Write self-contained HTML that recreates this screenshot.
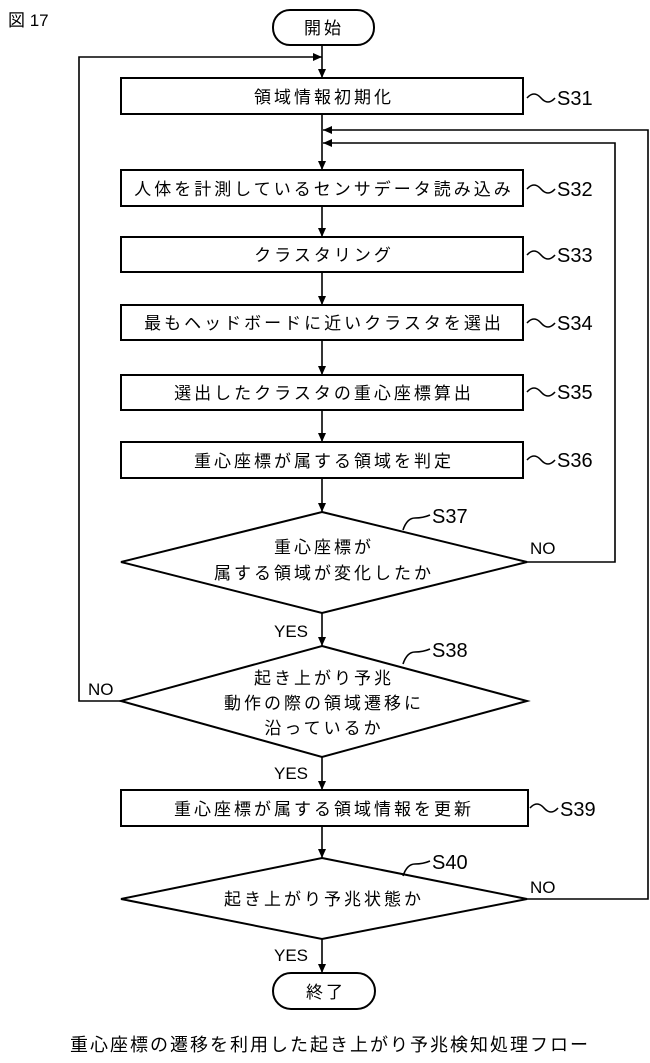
<!DOCTYPE html>
<html><head><meta charset="utf-8"><style>body{margin:0;background:#fff}svg{display:block}</style></head><body>
<svg width="650" height="1063" viewBox="0 0 650 1063" xmlns="http://www.w3.org/2000/svg" font-family="'Liberation Sans','Noto Sans CJK JP',sans-serif">
<defs><marker id="a" markerWidth="10" markerHeight="10" refX="9" refY="5" orient="auto" markerUnits="userSpaceOnUse"><path d="M0,1 L9,5 L0,9 Z" fill="#000"/></marker></defs>
<g fill="none" stroke="#000" stroke-width="2">
<rect x="273" y="10" width="101" height="35" rx="17"/>
<rect x="121" y="78" width="402" height="36"/>
<rect x="121" y="170" width="402" height="36"/>
<rect x="121" y="237" width="402" height="35"/>
<rect x="121" y="305" width="402" height="35"/>
<rect x="121" y="375" width="402" height="35"/>
<rect x="121" y="442" width="402" height="36"/>
<polygon points="322,512 527,562 322,613 121,562"/>
<polygon points="322,646 527,701 322,757 121,701"/>
<rect x="121" y="790" width="407" height="36"/>
<polygon points="322,858 527,899 322,939 121,899"/>
<rect x="273" y="973" width="102" height="36" rx="18"/>
</g>
<g stroke="#000" stroke-width="1.6" fill="none">
<line x1="322" y1="45" x2="322" y2="78" marker-end="url(#a)"/>
<line x1="322" y1="114" x2="322" y2="170" marker-end="url(#a)"/>
<line x1="322" y1="206" x2="322" y2="237" marker-end="url(#a)"/>
<line x1="322" y1="272" x2="322" y2="305" marker-end="url(#a)"/>
<line x1="322" y1="340" x2="322" y2="375" marker-end="url(#a)"/>
<line x1="322" y1="410" x2="322" y2="442" marker-end="url(#a)"/>
<line x1="322" y1="478" x2="322" y2="512" marker-end="url(#a)"/>
<line x1="322" y1="613" x2="322" y2="646" marker-end="url(#a)"/>
<line x1="322" y1="757" x2="322" y2="790" marker-end="url(#a)"/>
<line x1="322" y1="826" x2="322" y2="858" marker-end="url(#a)"/>
<line x1="322" y1="939" x2="322" y2="973" marker-end="url(#a)"/>
<polyline points="121,701 79,701 79,57 322,57" marker-end="url(#a)"/>
<polyline points="527,562 615,562 615,143 323,143" marker-end="url(#a)"/>
<polyline points="527,899 648,899 648,130 323,130" marker-end="url(#a)"/>
<path d="M527,98 q7,-8 14,0 t14,0"/><path d="M527,189 q7,-8 14,0 t14,0"/><path d="M527,255 q7,-8 14,0 t14,0"/><path d="M527,323 q7,-8 14,0 t14,0"/><path d="M527,392 q7,-8 14,0 t14,0"/><path d="M527,460 q7,-8 14,0 t14,0"/><path d="M530,808 q7,-8 14,0 t14,0"/>
<path d="M403,530 q4,-12 12,-12 t15,-3"/><path d="M403,664 q4,-12 12,-12 t15,-3"/><path d="M403,876 q4,-12 12,-12 t15,-3"/>
</g>
<g font-size="17" letter-spacing="3" fill="#000" text-anchor="middle">
<text x="324" y="34">開始</text>
<text x="324" y="103">領域情報初期化</text>
<text x="324" y="195">人体を計測しているセンサデータ読み込み</text>
<text x="324" y="261">クラスタリング</text>
<text x="324" y="329">最もヘッドボードに近いクラスタを選出</text>
<text x="324" y="399">選出したクラスタの重心座標算出</text>
<text x="324" y="467">重心座標が属する領域を判定</text>
<text x="324" y="553">重心座標が</text>
<text x="324" y="579">属する領域が変化したか</text>
<text x="324" y="684">起き上がり予兆</text>
<text x="324" y="709">動作の際の領域遷移に</text>
<text x="324" y="734">沿っているか</text>
<text x="324" y="815">重心座標が属する領域情報を更新</text>
<text x="324" y="905">起き上がり予兆状態か</text>
<text x="326" y="998">終了</text>
</g>
<g font-size="20" fill="#000">
<text x="557" y="105">S31</text><text x="557" y="196">S32</text><text x="557" y="262">S33</text><text x="557" y="330">S34</text><text x="557" y="399">S35</text><text x="557" y="467">S36</text><text x="560" y="816">S39</text>
<text x="432" y="523">S37</text><text x="432" y="657">S38</text><text x="432" y="869">S40</text>
<text x="530" y="554" font-size="17">NO</text><text x="530" y="893" font-size="17">NO</text><text x="88" y="695" font-size="17">NO</text>
<text x="274" y="637" font-size="17">YES</text><text x="274" y="779" font-size="17">YES</text><text x="274" y="961" font-size="17">YES</text>
<text x="8" y="26" font-size="17">図 17</text>
<text x="70" y="1051" font-size="18" letter-spacing="2">重心座標の遷移を利用した起き上がり予兆検知処理フロー</text>
</g>
</svg>
</body></html>
